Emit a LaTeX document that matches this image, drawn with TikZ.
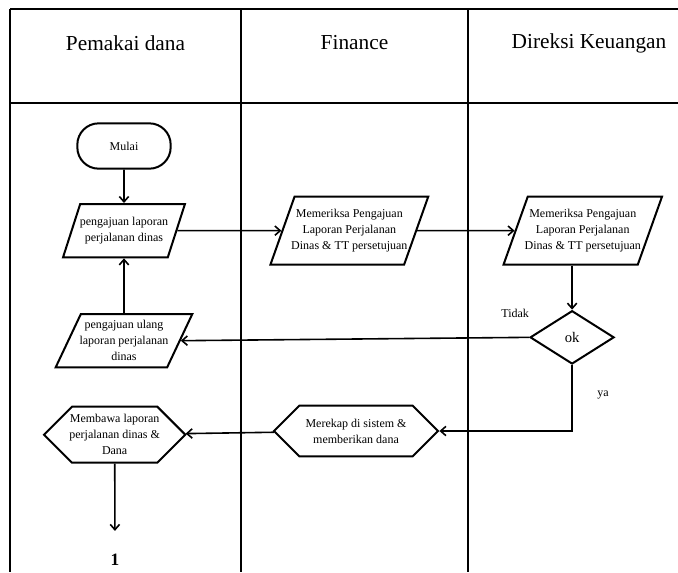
\documentclass[tikz,border=0pt]{standalone}
\usepackage{fontspec}
\setmainfont{Liberation Serif}
\usetikzlibrary{positioning,shapes.geometric,shapes.symbols,arrows.meta}

\begin{document}
\begin{tikzpicture}[
        x=0.75pt, y=-0.75pt,
        >={Straight Barb[length=4pt,width=7pt]},
        lane/.style={line width=2pt},
        head/.style={font=\fontsize{16}{19}\selectfont},
        small/.style={font=\fontsize{9}{12}\selectfont},
        terminal/.style={draw, small, line width=1.5pt, rounded corners=16pt, minimum width=70pt, minimum height=34pt},
        io/.style={draw, small, line width=1.5pt, trapezium, trapezium left angle=64, trapezium right angle=116, trapezium stretches=true, align=center, inner xsep=-8pt, inner ysep=0pt},
        proc/.style={draw, small, line width=1.5pt, signal, signal to=west and east, signal pointer angle=90, align=center, inner xsep=-2pt, inner ysep=0pt},
        decision/.style={draw, line width=1.5pt, diamond, aspect=1.6, minimum width=63pt, minimum height=40pt, inner sep=0pt, font=\fontsize{11}{13}\selectfont},
        flow/.style={->, line width=1.2pt},
    ]
    \useasboundingbox (0,0) rectangle (678,572);

    % swimlanes
    \draw[lane] (10,9) -- (678,9);
    \draw[lane] (10,103) -- (678,103);
    \draw[lane] (10,9) -- (10,572);
    \draw[lane] (241,9) -- (241,572);
    \draw[lane] (468,9) -- (468,572);
    \node[head] (hpemakai) at (125.5,43) {Pemakai dana};
    \node[head] (hfinance) at (354.5,43) {Finance};
    \node[head] (hdireksi) at (589,43) {Direksi Keuangan};

    % pemakai dana
    \node[terminal] (mulai) at (124,146) {Mulai};
    \node[io, below=25pt of mulai, minimum width=91.5pt, minimum height=40pt] (lapor) {pengajuan laporan\\perjalanan dinas};
    \node[io, below=41pt of lapor, minimum width=103pt, minimum height=40pt] (ulang) {pengajuan ulang\\laporan perjalanan\\dinas};
    \node[proc, below=28pt of ulang, xshift=-7pt, minimum width=105pt, minimum height=42pt] (bawa) {Membawa laporan\\perjalanan dinas \&\\Dana};
    \node[font=\fontsize{13}{15}\selectfont\bfseries] (satu) at (115,560) {1};

    % finance
    \node[io, right=78pt of lapor, minimum width=118.5pt, minimum height=51pt] (cekfin) {Memeriksa Pengajuan\\Laporan Perjalanan\\Dinas \& TT persetujuan};
    \node[proc, minimum width=123pt, minimum height=38pt] (rekap) at (356,431) {Merekap di sistem \&\\memberikan dana};

    % direksi keuangan
    \node[io, right=73pt of cekfin, minimum width=119pt, minimum height=51pt] (cekdir) {Memeriksa Pengajuan\\Laporan Perjalanan\\Dinas \& TT persetujuan};
    \node[decision, below=33pt of cekdir, xshift=-8pt] (ok) {ok};

    \draw[flow] (mulai) -- (lapor);
    \draw[flow] (lapor) -- (cekfin);
    \draw[flow] (cekfin) -- (cekdir);
    \draw[flow] (ok |- cekdir.south) -- (ok);
    \draw[flow] (ok.west) -- node[small, pos=0.04, above=11pt] {Tidak} (ulang.east);
    \draw[flow] (ulang) -- (lapor);
    \draw[flow] (ok.south) |- node[small, pos=0.23, right=15pt] {ya} (rekap.east);
    \draw[flow] (rekap) -- (bawa);
    \draw[flow, shorten >=14pt] (bawa) -- (satu);
\end{tikzpicture}
\end{document}
